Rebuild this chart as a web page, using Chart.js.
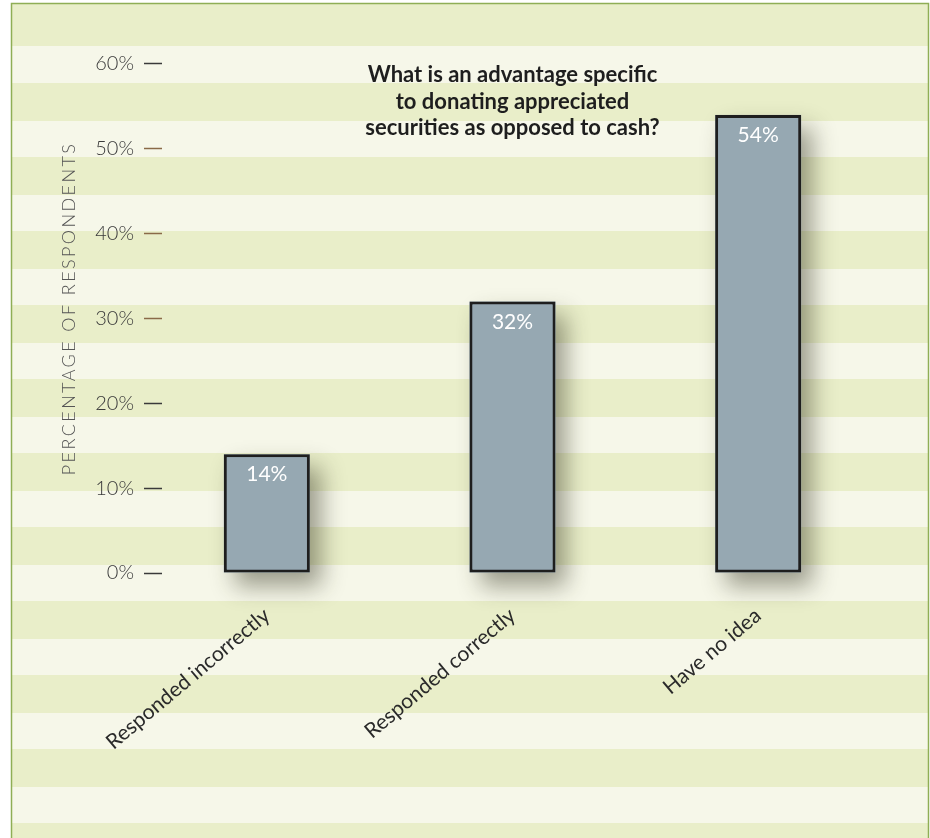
<!DOCTYPE html>
<html>
<head>
<meta charset="utf-8">
<script src="https://cdn.jsdelivr.net/npm/chart.js@4.4.0/dist/chart.umd.min.js"></script>
<style>
  html, body { margin: 0; padding: 0; background: #fff; }
  #wrap { width: 930px; height: 838px; position: relative; }
</style>
</head>
<body>
<div id="wrap"><canvas id="chart"></canvas></div>
<script>
const categories = ['Responded incorrectly', 'Responded correctly', 'Have no idea'];
const shares = [14, 32, 54];
const yMin = 0;
const yMax = 60;
const yStep = 10;
const question = ['What is an advantage specific', 'to donating appreciated', 'securities as opposed to cash?'];
const yAxisTitle = 'PERCENTAGE OF RESPONDENTS';

const barFill = '#96a8b2';

// striped paper background with a thin green frame
const stripes = {
  id: 'stripes',
  beforeDraw(chart) {
    const ctx = chart.ctx;
    const w = chart.width, h = chart.height;
    ctx.save();
    ctx.fillStyle = '#fff';
    ctx.fillRect(0, 0, w, h);
    ctx.fillStyle = '#f6f7e9';
    ctx.fillRect(12, 4, w - 14, h - 4);
    ctx.fillStyle = '#e9eec9';
    ctx.fillRect(12, 4, w - 14, 42);
    for (let y = 83; y < h; y += 74) {
      ctx.fillRect(12, y, w - 14, 38);
    }
    ctx.strokeStyle = '#8fae55';
    ctx.lineWidth = 1.5;
    ctx.beginPath();
    ctx.moveTo(11.5, h);
    ctx.lineTo(11.5, 3.5);
    ctx.lineTo(w - 1.5, 3.5);
    ctx.lineTo(w - 1.5, h);
    ctx.stroke();
    ctx.restore();
  }
};

// soft drop shadow under the bars (bars clip their own shadow, so paint it first)
const barShadow = {
  id: 'barShadow',
  beforeDatasetsDraw(chart) {
    const ctx = chart.ctx;
    const meta = chart.getDatasetMeta(0);
    ctx.save();
    ctx.shadowColor = 'rgba(45, 45, 25, 0.45)';
    ctx.shadowBlur = 22;
    ctx.shadowOffsetX = 11;
    ctx.shadowOffsetY = 13;
    ctx.fillStyle = barFill;
    meta.data.forEach(bar => {
      const { x, y, base, width } = bar.getProps(['x', 'y', 'base', 'width'], true);
      ctx.fillRect(x - width / 2, y, width, base - y);
    });
    ctx.restore();
  }
};

// value labels inside the top of each bar
const barLabels = {
  id: 'barLabels',
  afterDatasetsDraw(chart) {
    const ctx = chart.ctx;
    const meta = chart.getDatasetMeta(0);
    ctx.save();
    ctx.fillStyle = '#fff';
    ctx.font = '400 21px Lato';
    ctx.textAlign = 'center';
    ctx.textBaseline = 'top';
    meta.data.forEach((bar, i) => {
      ctx.fillText(shares[i] + '%', bar.x, bar.y + 10);
    });
    ctx.restore();
  }
};

// letter-spaced y axis title, nudged up a little
const spacedTitle = {
  id: 'spacedTitle',
  afterLayout(chart) {
    const s = chart.scales.y;
    if (s._spaced) return;
    const draw = s.drawTitle.bind(s);
    s.drawTitle = () => {
      s.ctx.save();
      s.ctx.letterSpacing = '2.4px';
      s.ctx.translate(0, -10);
      draw();
      s.ctx.restore();
    };
    s._spaced = true;
  }
};

const tickMarkColor = ctx => (ctx.tick && ctx.tick.value >= 30 && ctx.tick.value <= 50) ? '#8a6a48' : '#3a3a3a';

new Chart(document.getElementById('chart'), {
  type: 'bar',
  data: {
    labels: categories,
    datasets: [{
      data: shares,
      backgroundColor: barFill,
      borderColor: '#1e1e1e',
      borderWidth: 3,
      borderSkipped: false,
      barPercentage: 0.35,
      categoryPercentage: 1
    }]
  },
  options: {
    responsive: true,
    maintainAspectRatio: false,
    animation: false,
    layout: { padding: { top: 0, right: 49, bottom: 0, left: 0 } },
    plugins: {
      legend: { display: false },
      tooltip: { enabled: false },
      title: {
        display: true,
        text: question,
        fullSize: false,
        color: '#1e1e1e',
        font: { family: 'Lato', size: 22, weight: 'bold', lineHeight: 1.2 },
        padding: { top: 62, bottom: -77.2 }
      }
    },
    scales: {
      x: {
        grid: { display: false, drawTicks: false },
        border: { display: false },
        ticks: {
          autoSkip: false,
          minRotation: 40,
          maxRotation: 40,
          padding: 30,
          color: '#2a2a2a',
          font: { family: 'Lato', size: 21 }
        },
        afterFit(scale) { scale.height = 265; }
      },
      y: {
        min: yMin,
        max: yMax,
        border: { display: false },
        grid: {
          drawOnChartArea: false,
          tickLength: -18,
          tickWidth: 1.5,
          tickColor: tickMarkColor
        },
        ticks: {
          stepSize: yStep,
          padding: 28,
          color: '#3a3a3a',
          font: { family: 'Lato', size: 20, weight: 300 },
          callback: v => v + '%'
        },
        title: {
          display: true,
          text: yAxisTitle,
          color: '#555',
          font: { family: 'Lato', size: 18, weight: 300 },
          padding: { top: 58, bottom: 0 }
        },
        afterFit(scale) { scale.width = 144; }
      }
    }
  },
  plugins: [stripes, barShadow, barLabels, spacedTitle]
});
</script>
</body>
</html>
